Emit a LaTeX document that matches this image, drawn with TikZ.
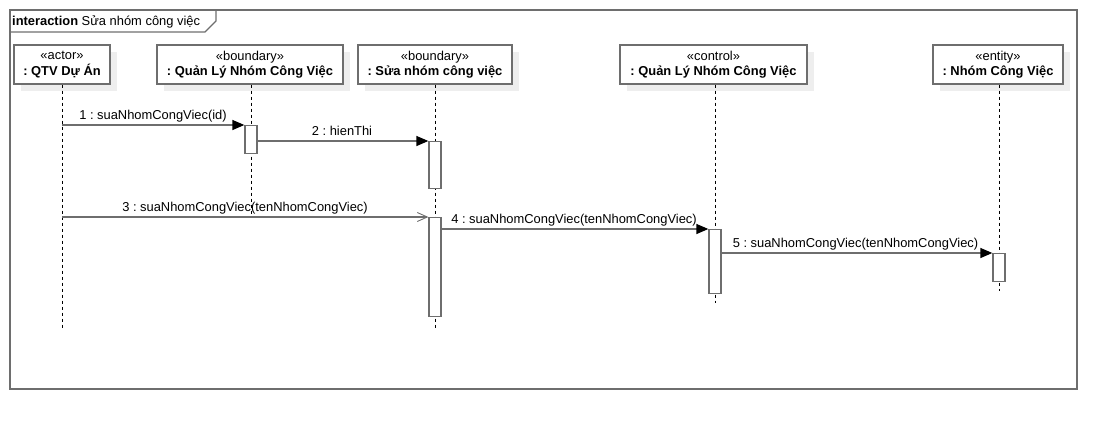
\documentclass[tikz,border=0pt]{standalone}
\usepackage{fontspec}
\setmainfont{Liberation Sans}
\usetikzlibrary{arrows.meta}
\frenchspacing
\definecolor{linegray}{HTML}{6E6E6E}
\definecolor{shadowgray}{HTML}{EEEEEE}
\begin{document}
\begin{tikzpicture}[x=1pt,y=-1pt,
  font=\fontsize{12.9}{15.5}\selectfont,
  headbox/.style={draw=linegray,line width=1.3pt,fill=white,align=center,inner sep=0pt,minimum height=39},
  lifeline/.style={draw=black,line width=0.8pt,dash pattern=on 3pt off 3pt},
  actbox/.style={draw=linegray,line width=1.3pt,fill=white,minimum width=12,inner sep=0pt},
  syncmsg/.style={draw=linegray,line width=1.3pt,-{Triangle[length=12pt,width=10pt,black]}},
  asyncmsg/.style={draw=linegray,line width=1.3pt,-{Straight Barb[length=10pt,width=9pt,line width=0.9pt]}},
  msglabel/.style={inner sep=0pt,anchor=base}]
\useasboundingbox (0,0) rectangle (1117,429);

% frame and its label tab
\draw[linegray,line width=1.3pt] (10,10) rectangle (1077,389);
\draw[linegray,line width=1.3pt] (10,32) -- (205,32) -- (216,21) -- (216,10);
\node[anchor=base west,inner sep=0pt] (frametitle) at (12,25) {\textbf{interaction} Sửa nhóm công việc};

% header shadows
\fill[shadowgray] (21,52) rectangle (117,91);
\fill[shadowgray] (164,52) rectangle (350,91);
\fill[shadowgray] (365,52) rectangle (519,91);
\fill[shadowgray] (627,52) rectangle (814,91);
\fill[shadowgray] (940,52) rectangle (1070,91);

% lifeline heads
\node[headbox,minimum width=96] (qtv) at (62,64.5) {«actor»\\\textbf{: QTV Dự Án}};
\node[headbox,minimum width=186] (qlui) at (250,64.5) {«boundary»\\\textbf{: Quản Lý Nhóm Công Việc}};
\node[headbox,minimum width=154] (suaui) at (435,64.5) {«boundary»\\\textbf{: Sửa nhóm công việc}};
\node[headbox,minimum width=187] (ctrl) at (713.5,64.5) {«control»\\\textbf{: Quản Lý Nhóm Công Việc}};
\node[headbox,minimum width=130] (ent) at (998,64.5) {«entity»\\\textbf{: Nhóm Công Việc}};

% lifeline ends
\coordinate (qtvend) at (62,328);
\coordinate (qluiend) at (251,218);
\coordinate (suauiend) at (435,328);
\coordinate (ctrlend) at (715,303);
\coordinate (entend) at (999,291);

\draw[lifeline] (qtv.south -| qtvend) -- (qtvend);
\draw[lifeline] (qlui.south -| qluiend) -- (qluiend);
\draw[lifeline] (suaui.south -| suauiend) -- (suauiend);
\draw[lifeline] (ctrl.south -| ctrlend) -- (ctrlend);
\draw[lifeline] (ent.south -| entend) -- (entend);

% activations
\node[actbox,minimum height=28,anchor=north] (act1) at (251,125) {};
\node[actbox,minimum height=47,anchor=north] (act2) at (435,141) {};
\node[actbox,minimum height=99,anchor=north] (act3) at (435,217) {};
\node[actbox,minimum height=64,anchor=north] (act4) at (715,229) {};
\node[actbox,minimum height=28,anchor=north] (act5) at (999,253) {};

% messages
\coordinate (m1a) at (62,125);
\draw[syncmsg] (m1a) -- (act1.north west);
\node[msglabel] (l1) at (153,119.5) {1 : suaNhomCongViec(id)};

\draw[syncmsg] (act1.north east |- act2.north) -- (act2.north west);
\node[msglabel] (l2) at (342,135.5) {2 : hienThi};

\coordinate (m3a) at (62,217);
\draw[asyncmsg] (m3a) -- (act3.north west);
\node[msglabel] (l3) at (245,211.5) {3 : suaNhomCongViec(tenNhomCongViec)};

\draw[syncmsg] (act3.east |- act4.north) -- (act4.north west);
\node[msglabel] (l4) at (574,223.5) {4 : suaNhomCongViec(tenNhomCongViec)};

\draw[syncmsg] (act4.east |- act5.north) -- (act5.north west);
\node[msglabel] (l5) at (855.5,247.5) {5 : suaNhomCongViec(tenNhomCongViec)};
\end{tikzpicture}
\end{document}
